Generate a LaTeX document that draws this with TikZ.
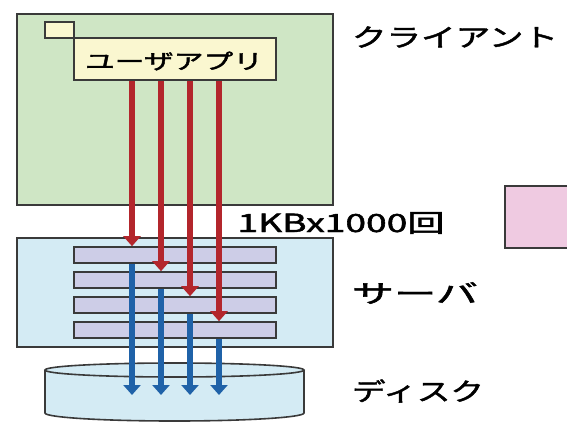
\documentclass[tikz,border=0pt]{standalone}
\usepackage{fontspec}
\usepackage{graphicx}
\setmainfont{Noto Sans CJK JP}[FakeBold=1.6]
\usetikzlibrary{arrows.meta}
\definecolor{cgreen}{HTML}{CFE6C5}
\definecolor{cyellow}{HTML}{FAF7D0}
\definecolor{cblue}{HTML}{D4EBF4}
\definecolor{cpurple}{HTML}{CDCDE7}
\definecolor{cpink}{HTML}{EFCAE1}
\definecolor{cdisk}{HTML}{D4EBF4}
\definecolor{cred}{HTML}{B3262C}
\definecolor{cblu}{HTML}{1F62A8}
\definecolor{cborder}{HTML}{3A3A3A}
\newcommand\lbl[2]{\resizebox{#1}{\height}{#2}}
\begin{document}
\begin{tikzpicture}[x=1pt,y=-1pt,
  box/.style={draw=cborder, line width=1.6pt, inner sep=0pt},
  txt/.style={inner sep=0pt, font=\fontsize{25}{25}\selectfont},
  redarrow/.style={draw=cred, line width=6.5pt, -{Triangle[width=17pt,length=10pt]}},
  bluearrow/.style={draw=cblu, line width=6.5pt, -{Triangle[width=17pt,length=10pt]}}]
\useasboundingbox (0,0) rectangle (567,426);
% client
\node[box, fill=cgreen, minimum width=316pt, minimum height=191pt] (client) at (175,109.5) {};
\node[box, fill=cyellow, minimum width=29pt, minimum height=16pt] (tab) at (59.5,30) {};
\node[box, fill=cyellow, minimum width=202pt, minimum height=42pt] (app) at (175,59) {};
\node[inner sep=0pt, font=\fontsize{21}{21}\selectfont] (apptext) at (174,61) {\lbl{178pt}{ユーザアプリ}};
% server
\node[box, fill=cblue, minimum width=316pt, minimum height=109pt] (server) at (175,292.5) {};
\node[box, fill=cpurple, minimum width=202pt, minimum height=16pt] (bar1) at (175,255) {};
\node[box, fill=cpurple, minimum width=202pt, minimum height=16pt] (bar2) at (175,280) {};
\node[box, fill=cpurple, minimum width=202pt, minimum height=16pt] (bar3) at (175,305) {};
\node[box, fill=cpurple, minimum width=202pt, minimum height=16pt] (bar4) at (175,330) {};
% pink box
\node[box, fill=cpink, minimum width=80pt, minimum height=62pt] (pink) at (545,217) {};
% disk
\fill[cdisk] (45,370) rectangle (304,413);
\fill[cdisk] (174.5,413) ellipse [x radius=129.5, y radius=8];
\draw[cborder, line width=1.6pt] (45,370) -- (45,413) arc[start angle=180, end angle=0, x radius=129.5, y radius=8] -- (304,370);
\draw[cborder, line width=1.6pt, fill=cdisk] (174.5,370) ellipse [x radius=129.5, y radius=7];
\coordinate (disk) at (174.5,395);
% arrow columns
\coordinate (c1) at (132,0);
\coordinate (c2) at (161,0);
\coordinate (c3) at (190,0);
\coordinate (c4) at (219,0);
\draw[redarrow] (app.south -| c1) -- (bar1.north -| c1);
\draw[redarrow] (app.south -| c2) -- (bar2.north -| c2);
\draw[redarrow] (app.south -| c3) -- (bar3.north -| c3);
\draw[redarrow] (app.south -| c4) -- (bar4.north -| c4);
\draw[bluearrow] (bar1.south -| c1) -- (disk -| c1);
\draw[bluearrow] (bar2.south -| c2) -- (disk -| c2);
\draw[bluearrow] (bar3.south -| c3) -- (disk -| c3);
\draw[bluearrow] (bar4.south -| c4) -- (disk -| c4);
% labels
\node[txt] (lclient) at (455,37) {\lbl{206pt}{クライアント}};
\node[txt] (lcount) at (341,223) {\lbl{207pt}{1KBx1000回}};
\node[txt] (lserver) at (415,293) {\lbl{126pt}{サーバ}};
\node[txt] (ldisk) at (418,391) {\lbl{132pt}{ディスク}};
\end{tikzpicture}
\end{document}
